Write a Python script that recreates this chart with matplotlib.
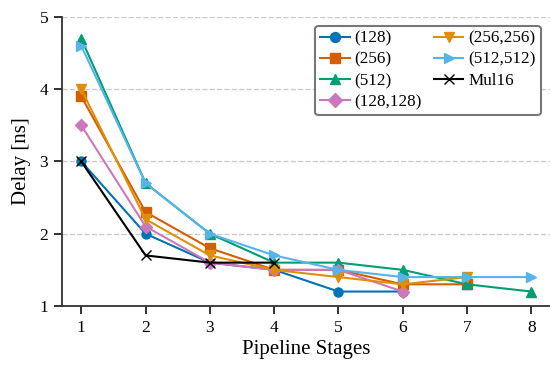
import matplotlib
matplotlib.use("Agg")
import matplotlib.pyplot as plt

# 数据
x_128 = [1, 2, 3, 4, 5, 6]
y_128 = [3.0, 2.0, 1.6, 1.5, 1.2, 1.2]
x_256 = [1, 2, 3, 4, 5, 6, 7]
y_256 = [3.9, 2.3, 1.8, 1.5, 1.5, 1.3, 1.3]
x_512 = [1, 2, 3, 4, 5, 6, 7, 8]
y_512 = [4.7, 2.7, 2.0, 1.6, 1.6, 1.5, 1.3, 1.2]
x_128_128 = [1, 2, 3, 4, 5, 6]
y_128_128 = [3.5, 2.1, 1.6, 1.5, 1.5, 1.2]
x_256_256 = [1, 2, 3, 4, 5, 6, 7]
y_256_256 = [4.0, 2.2, 1.7, 1.5, 1.4, 1.3, 1.4]
x_512_512 = [1, 2, 3, 4, 5, 6, 7, 8]
y_512_512 = [4.6, 2.7, 2.0, 1.7, 1.5, 1.4, 1.4, 1.4]
x_mul16 = [1, 2, 3, 4]
y_mul16 = [3.0, 1.7, 1.6, 1.6]

plt.rcParams['font.family'] = ['Liberation Serif', 'DejaVu Serif']

fig = plt.figure(figsize=(5.5, 3.68), dpi=100)
ax = fig.add_axes([0.1127, 0.1685, 0.8885, 0.7853])

ax.plot(x_128, y_128, marker='o', color='#0173B2', lw=1.5, ms=6.5, label='(128)')
ax.plot(x_256, y_256, marker='s', color='#D55E00', lw=1.5, ms=6.5, label='(256)')
ax.plot(x_512, y_512, marker='^', color='#029E73', lw=1.5, ms=7, label='(512)')
ax.plot(x_128_128, y_128_128, marker='D', color='#CC78BC', lw=1.5, ms=6.5, label='(128,128)')
ax.plot(x_256_256, y_256_256, marker='v', color='#DE8F05', lw=1.5, ms=7, label='(256,256)')
ax.plot(x_512_512, y_512_512, marker='>', color='#56B4E9', lw=1.5, ms=7, label='(512,512)')
ax.plot(x_mul16, y_mul16, marker='x', color='black', lw=1.5, ms=7, label='Mul16')

ax.set_xlim(0.7, 8.3)
ax.set_ylim(1, 5)
ax.set_xticks(range(1, 9))
ax.set_yticks([1, 2, 3, 4, 5])
ax.tick_params(labelsize=12.5, width=1.3, length=6, pad=4, color='#222222')
ax.spines['top'].set_visible(False)
ax.spines['right'].set_visible(False)
for s in ['left', 'bottom']:
    ax.spines[s].set_linewidth(1.3)
    ax.spines[s].set_color('#333333')
ax.yaxis.grid(True, linestyle='--', color='#cccccc', lw=1)
ax.set_axisbelow(True)

ax.set_xlabel('Pipeline Stages', fontsize=15, labelpad=3)
ax.set_ylabel('Delay [ns]', fontsize=15, labelpad=6)

leg = ax.legend(ncol=2, fontsize=12.3, loc='upper right', bbox_to_anchor=(0.997, 1.0),
                frameon=True, fancybox=True, edgecolor='#777777', framealpha=1,
                handlelength=1.7, handletextpad=0.3, columnspacing=0.7,
                labelspacing=0.3, borderpad=0.3, markerscale=1.1)
leg.get_frame().set_linewidth(1.5)

fig.savefig('out.png', dpi=100)
